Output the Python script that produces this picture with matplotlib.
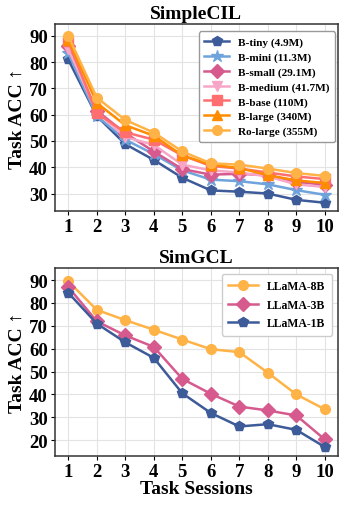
import matplotlib
matplotlib.use("Agg")
import matplotlib.pyplot as plt

plt.rcParams['font.family'] = ['Liberation Serif', 'DejaVu Serif']
plt.rcParams['font.weight'] = 'bold'
plt.rcParams['axes.labelweight'] = 'bold'
plt.rcParams['axes.titleweight'] = 'bold'

sessions = [1, 2, 3, 4, 5, 6, 7, 8, 9, 10]

# SimpleCIL
top_labels = ['B-tiny (4.9M)', 'B-mini (11.3M)', 'B-small (29.1M)', 'B-medium (41.7M)',
              'B-base (110M)', 'B-large (340M)', 'Ro-large (355M)']
b_tiny = [81.0, 59.5, 48.8, 42.8, 36.0, 31.2, 30.7, 30.0, 27.6, 26.5]
b_mini = [83.5, 59.5, 50.5, 45.0, 38.8, 35.3, 34.7, 33.5, 31.3, 29.5]
b_small = [86.0, 61.5, 53.0, 46.0, 39.3, 37.2, 37.5, 37.0, 34.5, 33.3]
b_medium = [85.0, 61.0, 51.5, 48.5, 41.0, 38.8, 38.0, 36.5, 33.5, 32.5]
b_base = [88.0, 60.5, 53.3, 50.5, 44.5, 40.5, 39.5, 38.0, 36.5, 35.5]
b_large = [88.5, 64.5, 56.0, 52.0, 44.5, 41.0, 39.7, 37.0, 35.0, 34.0]
ro_large = [90.0, 66.5, 58.0, 53.2, 46.0, 41.5, 41.0, 39.5, 37.8, 36.7]
top_series = [b_tiny, b_mini, b_small, b_medium, b_base, b_large, ro_large]
top_colors = ['#3d5a99', '#6fa3dc', '#d65a8e', '#f7a6c8', '#ff6f6f', '#ff8c00', '#ffb347']
top_markers = ['p', '*', 'D', 'v', 's', '^', 'o']

# SimGCL
bottom_labels = ['LLaMA-8B', 'LLaMA-3B', 'LLaMA-1B']
llama_8b = [89.5, 77.0, 72.5, 68.3, 64.0, 59.8, 58.5, 49.5, 40.0, 33.5]
llama_3b = [87.0, 72.0, 65.8, 60.8, 46.8, 40.3, 34.7, 33.0, 30.8, 20.3]
llama_1b = [84.5, 71.0, 62.8, 56.0, 40.5, 31.9, 26.0, 27.0, 24.5, 17.0]
bottom_series = [llama_8b, llama_3b, llama_1b]
bottom_colors = ['#ffb347', '#d65a8e', '#3d5a99']
bottom_markers = ['o', 'D', 'p']

fig = plt.figure(figsize=(3.47, 5.10), dpi=100)
ax1 = fig.add_axes([0.158, 0.584, 0.816, 0.367])
ax2 = fig.add_axes([0.158, 0.104, 0.816, 0.369])

for vals, lab, c, m in zip(top_series, top_labels, top_colors, top_markers):
    ms = 9 if m == '*' else 7
    ax1.plot(sessions, vals, color=c, marker=m, label=lab, linewidth=1.8, markersize=ms)

for vals, lab, c, m in zip(bottom_series, bottom_labels, bottom_colors, bottom_markers):
    ax2.plot(sessions, vals, color=c, marker=m, label=lab, linewidth=1.8, markersize=7)

ax1.set_ylim(23.3, 94.5)
ax1.set_yticks([30, 40, 50, 60, 70, 80, 90])
ax2.set_ylim(13.1, 95.4)
ax2.set_yticks([20, 30, 40, 50, 60, 70, 80, 90])

for ax, title in [(ax1, 'SimpleCIL'), (ax2, 'SimGCL')]:
    ax.set_xticks(sessions)
    ax.set_xlim(0.53, 10.46)
    ax.grid(True, color='#e3e3e3', linewidth=0.8)
    ax.set_axisbelow(True)
    ax.set_title(title, fontsize=14, pad=4)
    ax.set_ylabel('Task ACC ↑', fontsize=14, labelpad=2)
    ax.tick_params(labelsize=13.5, length=3, pad=2)
    for s in ax.spines.values():
        s.set_color('#333333')
        s.set_linewidth(1.1)

ax2.set_xlabel('Task Sessions', fontsize=14, labelpad=0)

leg1 = ax1.legend(loc='upper right', bbox_to_anchor=(0.99, 0.96), fontsize=8.1,
                  handlelength=2.2, labelspacing=0.42, borderpad=0.5, framealpha=1,
                  edgecolor='#999999', borderaxespad=0)
leg2 = ax2.legend(loc='upper right', fontsize=8.5, handlelength=2.5, labelspacing=0.55,
                  borderpad=0.55, framealpha=1, edgecolor='#cccccc')

fig.savefig('out.png', dpi=100)
